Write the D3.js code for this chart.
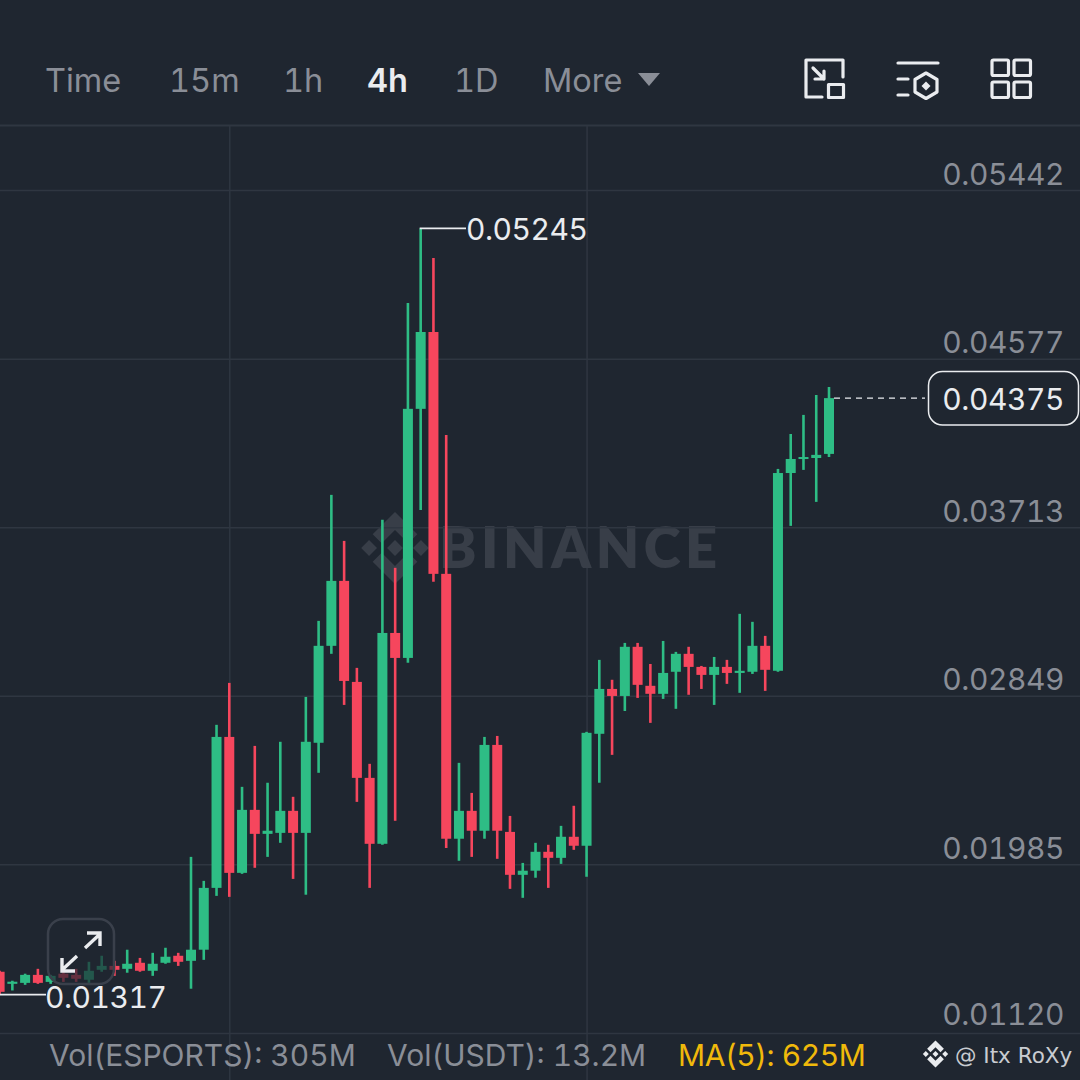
<!DOCTYPE html>
<html><head><meta charset="utf-8">
<style>html,body{margin:0;padding:0;background:#1f2630;overflow:hidden}svg{display:block}text{font-family:Inter,"Noto Sans",sans-serif;font-variant-numeric:tabular-nums}</style>
<script src="https://cdnjs.cloudflare.com/ajax/libs/d3/7.8.5/d3.min.js"></script>
</head><body><svg id="c" width="1080" height="1080"></svg>
<script>
const opens = [.01434,.01372,.01377,.01418,.01382,.01424,.01418,.01393,.01444,.01464,.01449,.01480,.01439,.01480,.01516,.01490,.01547,.01864,.02638,.01941,.02264,.02141,.02146,.02259,.02146,.02608,.03105,.03438,.02920,.02428,.02090,.03171,.03043,.04320,.04714,.03474,.02116,.02259,.02157,.02597,.02151,.01931,.01952,.02049,.02018,.02126,.02080,.02654,.02884,.02848,.03100,.02900,.02859,.02972,.03064,.02997,.02956,.02997,.02966,.02972,.03105,.02977,.03991,.04063,.04068,.04089];
const highs = [.01439,.01388,.01424,.01449,.01418,.01439,.01449,.01485,.01516,.01490,.01547,.01505,.01531,.01557,.01531,.02023,.01900,.02700,.02915,.02382,.02592,.02403,.02613,.02331,.02843,.03233,.03879,.03643,.02992,.02500,.03751,.03505,.04863,.05245,.05093,.04186,.02505,.02351,.02638,.02643,.02233,.01992,.02095,.02085,.02182,.02285,.02664,.03033,.02931,.03120,.03120,.03012,.03130,.03074,.03100,.03002,.03048,.03033,.03269,.03228,.03156,.04012,.04191,.04289,.04391,.04432];
const lows = [.01317,.01338,.01367,.01372,.01372,.01382,.01382,.01377,.01434,.01413,.01429,.01434,.01413,.01475,.01464,.01347,.01495,.01823,.01818,.01936,.01967,.02023,.02095,.01910,.01829,.02454,.03064,.02802,.02305,.01864,.02085,.02208,.03018,.03802,.03433,.02069,.02003,.02023,.02116,.02013,.01859,.01813,.01916,.01864,.01987,.02059,.01921,.02403,.02546,.02771,.02838,.02710,.02833,.02782,.02854,.02884,.02802,.02910,.02864,.02961,.02874,.02972,.03720,.04007,.03843,.04073];
const closes = [.01331,.01383,.01418,.01377,.01413,.01403,.01398,.01439,.01464,.01444,.01475,.01439,.01475,.01511,.01485,.01547,.01864,.02638,.01941,.02264,.02141,.02157,.02259,.02146,.02613,.03105,.03438,.02925,.02428,.02090,.03171,.03043,.04320,.04714,.03474,.02116,.02259,.02157,.02597,.02157,.01931,.01952,.02049,.02018,.02126,.02080,.02659,.02884,.02848,.03100,.02905,.02859,.02966,.03064,.02997,.02956,.02997,.02966,.02977,.03105,.02982,.03991,.04063,.04073,.04084,.04375];
const priceTicks = [.05442,.04577,.03713,.02849,.01985,.01120];
const timeGridIndex = [18,46];
const tabs = ["Time","15m","1h","4h","1D","More"];
const activeTab = "4h";
const lastPrice = .04375, maxPrice = .05245, minPrice = .01317;
const volumeLegend = [["Vol(ESPORTS): 305M","#8a8e97"],["Vol(USDT): 13.2M","#8a8e97"],["MA(5): 625M","#f0b90b"]];
const credit = "@ Itx RoXy";

const UP="#2ebd85", DOWN="#f6465d", GRID="#2f3641", GREY="#8a8e97", WHITE="#eaecef", BG="#1f2630", NUM=-.45;
const fmt=d3.format(".5f");
const svg=d3.select("#c");
svg.append("rect").attr("width",1080).attr("height",1080).attr("fill",BG);
const x=d3.scaleLinear().domain([0,65]).range([-0.4,829]);
const y=d3.scaleLinear().domain([priceTicks[0],priceTicks[5]]).range([190,1033]);
const data=opens.map((o,i)=>({i,o,h:highs[i],l:lows[i],c:closes[i]}));

// frame and vertical grid
svg.append("line").attr("x1",0).attr("x2",1080).attr("y1",125.5).attr("y2",125.5).attr("stroke",GRID).attr("stroke-width",2);
const xAxis=d3.axisBottom(x).tickValues(timeGridIndex).tickSize(954).tickFormat("");
const gx=svg.append("g").attr("transform","translate(0,126)").call(xAxis);
gx.select(".domain").remove();
gx.selectAll("line").attr("stroke",GRID).attr("stroke-width",1.5);

// logo
function logo(g,cx,cy,s,color){
  const polys=[
   [[0,-.22],[.22,0],[0,.22],[-.22,0]],
   [[-.72,-.22],[-.5,0],[-.72,.22],[-.94,0]],
   [[.72,-.22],[.94,0],[.72,.22],[.5,0]],
   [[0,-1],[.62,-.38],[.37,-.13],[0,-.5],[-.37,-.13],[-.62,-.38]],
   [[0,1],[.62,.38],[.37,.13],[0,.5],[-.37,.13],[-.62,.38]]];
  g.selectAll(null).data(polys).join("polygon")
   .attr("points",p=>p.map(q=>[cx+q[0]*s,cy+q[1]*s].join(",")).join(" ")).attr("fill",color);
}
// watermark
const wm=svg.append("g");
logo(wm,395,548,36,"#383e48");
wm.append("text").attr("x",439).attr("y",568).attr("font-size",56).attr("font-weight",800).attr("letter-spacing",4.6)
  .attr("fill","#383e48").style("font-family","Lato, Inter").text("BINANCE");

// price axis
const yAxis=d3.axisRight(y).tickValues(priceTicks).tickSize(1080).tickFormat(fmt);
const gy=svg.append("g").call(yAxis);
gy.select(".domain").remove();
gy.selectAll("line").attr("stroke",GRID).attr("stroke-width",1.5);
gy.selectAll("text").attr("x",1064).attr("dy",null).attr("dominant-baseline","central")
  .attr("y",(d,i)=>i===priceTicks.length-1?-20:-17).attr("text-anchor","end").attr("fill",GREY).attr("font-size",30).attr("letter-spacing",NUM);

// candles
const cg=svg.append("g");
const col=d=>d.c>=d.o?UP:DOWN;
cg.selectAll(".w").data(data).join("line").attr("class","w")
  .attr("x1",d=>x(d.i)).attr("x2",d=>x(d.i)).attr("y1",d=>y(d.h)).attr("y2",d=>y(d.l))
  .attr("stroke",col).attr("stroke-width",2.6);
cg.selectAll(".b").data(data).join("rect").attr("class","b")
  .attr("x",d=>x(d.i)-5).attr("width",10)
  .attr("y",d=>y(Math.max(d.o,d.c))).attr("height",d=>Math.max(2,Math.abs(y(d.o)-y(d.c))))
  .attr("fill",col);

// hi/lo labels
const hiIdx=d3.maxIndex(highs), loIdx=d3.minIndex(lows);
svg.append("line").attr("x1",x(hiIdx)-1).attr("x2",466).attr("y1",y(maxPrice)).attr("y2",y(maxPrice)).attr("stroke",WHITE).attr("stroke-width",1.6);
svg.append("text").attr("x",466).attr("y",y(maxPrice)+1).attr("dominant-baseline","central").attr("fill",WHITE).attr("font-size",30).attr("letter-spacing",NUM).text(fmt(maxPrice));
svg.append("line").attr("x1",x(loIdx)).attr("x2",46).attr("y1",y(minPrice)).attr("y2",y(minPrice)).attr("stroke",WHITE).attr("stroke-width",1.6);

// last price
svg.append("line").attr("x1",x(65)+5).attr("x2",925).attr("y1",y(lastPrice)).attr("y2",y(lastPrice)).attr("stroke",WHITE).attr("stroke-width",1.4).attr("stroke-dasharray","6 5");
svg.append("rect").attr("x",928.5).attr("y",371.5).attr("width",150).attr("height",53.5).attr("rx",14).attr("fill",BG).attr("stroke",WHITE).attr("stroke-width",1.5);
svg.append("text").attr("x",1064).attr("y",399).attr("dominant-baseline","central").attr("text-anchor","end").attr("fill",WHITE).attr("font-size",30).attr("letter-spacing",NUM).text(fmt(lastPrice));

// expand button
const eb=svg.append("g");
eb.append("rect").attr("x",48).attr("y",919).attr("width",66).attr("height",65).attr("rx",15).attr("fill",BG).attr("fill-opacity",.68).attr("stroke","#3a404b").attr("stroke-width",2.5);
eb.append("path").attr("fill","none").attr("stroke",WHITE).attr("stroke-width",3.4)
 .attr("d","M85,948 L100,934 M87,933 L100,933 L100,946 M77,956 L62,970 M62,958 L62,971 L75,971");
svg.append("text").attr("x",45).attr("y",y(minPrice)+2).attr("dominant-baseline","central").attr("fill",WHITE).attr("font-size",30).attr("letter-spacing",NUM).text(fmt(minPrice));

// tabs
const tabX=[45,169,283,367,454,543];
svg.selectAll(".tab").data(tabs).join("text").attr("class","tab")
  .attr("x",(d,i)=>tabX[i]).attr("y",92).attr("font-size",32.5)
  .attr("font-weight",d=>d===activeTab?600:400).attr("fill",d=>d===activeTab?WHITE:GREY).text(d=>d);
svg.append("polygon").attr("points","638,73 660,73 649,86").attr("fill",GREY);

// toolbar icons
const ic=svg.append("g").attr("fill","none").attr("stroke",WHITE).attr("stroke-width",3.2).attr("stroke-linecap","round").attr("stroke-linejoin","round");
ic.append("path").attr("d","M822,97 H806 V60 H843 V77 M813,68 L824,79 M824,71 V79 H815");
ic.append("rect").attr("x",828.5).attr("y",84.5).attr("width",15).attr("height",13);
ic.append("path").attr("d","M898,63 H938 M898,79 H908 M898,95 H908 M926,73 L937,79.5 V92 L926,98.5 L915,92 V79.5 Z");
ic.append("polygon").attr("points","926,81.5 930.5,86 926,90.5 921.5,86").attr("fill",WHITE).attr("stroke","none");
[[992,60],[1014,60],[992,82],[1014,82]].forEach(p=>ic.append("rect").attr("x",p[0]).attr("y",p[1]).attr("width",16.5).attr("height",15.5).attr("rx",1.5));

// bottom legend
const legX=[49,387,678];
svg.selectAll(".leg").data(volumeLegend).join("text").attr("class","leg")
  .attr("x",(d,i)=>legX[i]).attr("y",1066).attr("font-size",30).attr("letter-spacing",(d,i)=>i===2?-.45:0).attr("fill",d=>d[1]).text(d=>d[0]);
logo(svg.append("g"),935.5,1054,13.5,WHITE);
svg.append("text").attr("x",955).attr("y",1063).attr("font-size",21.5).attr("fill","#c9ccd1").style("font-family","'DejaVu Sans'").text(credit);
</script></body></html>
